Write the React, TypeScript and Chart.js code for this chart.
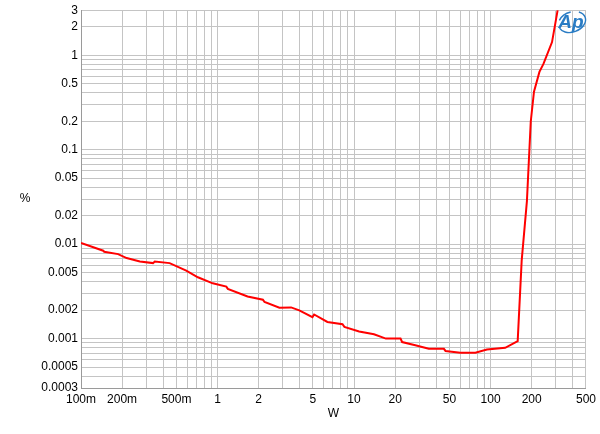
import React, { useEffect, useRef } from "react";
import { Chart, registerables } from "chart.js";

Chart.register(...registerables);

// Output power (W)
const powerW = [
  0.1, 0.1455, 0.148, 0.187, 0.216, 0.27, 0.337, 0.347, 0.446, 0.59, 0.718, 0.923,
  1.16, 1.19, 1.66, 2.15, 2.21, 2.84, 3.46, 3.97, 4.96, 5.1, 6.38, 8.23, 8.5,
  10.9, 14.0, 17.1, 21.9, 22.5, 28.1, 35.3, 45.5, 46.8, 60, 77.4, 94, 128, 158,
  169, 184.6, 197, 208, 228, 244, 282, 310,
];
// THD+N (%)
const thdPct = [
  0.0103, 0.00852, 0.0083, 0.00785, 0.00713, 0.00656, 0.0063, 0.00656, 0.0063, 0.00524,
  0.00446, 0.00385, 0.00355, 0.00336, 0.00279, 0.00258, 0.00244, 0.00212, 0.00214,
  0.00199, 0.00169, 0.0018, 0.0015, 0.00142, 0.00133, 0.00119, 0.00111, 0.001, 0.001,
  0.00092, 0.00085, 0.00078, 0.00078, 0.00074, 0.00071, 0.00071, 0.000766, 0.0008,
  0.00094, 0.0067, 0.0286, 0.199, 0.411, 0.667, 0.81, 1.38, 3.0,
];

const xMin = 0.1;
const xMax = 500;
const yMin = 0.0003;
const yMax = 3;

const xTickValues = [0.1, 0.2, 0.5, 1, 2, 5, 10, 20, 50, 100, 200, 500];
const xTickLabels = ["100m", "200m", "500m", "1", "2", "5", "10", "20", "50", "100", "200", "500"];
const yTickValues = [3, 2, 1, 0.5, 0.2, 0.1, 0.05, 0.02, 0.01, 0.005, 0.002, 0.001, 0.0005, 0.0003];
const yTickLabels = ["3", "2", "1", "0.5", "0.2", "0.1", "0.05", "0.02", "0.01", "0.005", "0.002", "0.001", "0.0005", "0.0003"];

const FONT = '"Liberation Sans", Arial, sans-serif';

function decadeGrid(min: number, max: number): number[] {
  const out: number[] = [];
  const lo = Math.floor(Math.log10(min));
  const hi = Math.ceil(Math.log10(max));
  for (let e = lo; e <= hi; e++) {
    for (let m = 1; m <= 9; m++) {
      const v = parseFloat((m * Math.pow(10, e)).toPrecision(6));
      if (v >= min * 0.9999 && v <= max * 1.0001) out.push(v);
    }
  }
  return out;
}

function labelFor(values: number[], labels: string[], v: number): string {
  for (let i = 0; i < values.length; i++) {
    if (Math.abs(values[i] - v) / values[i] < 1e-6) return labels[i];
  }
  return "";
}

const decorPlugin = {
  id: "decor",
  afterDraw(chart: any) {
    const { ctx, chartArea } = chart;
    ctx.save();
    ctx.fillStyle = "#000";
    ctx.font = `12px ${FONT}`;
    ctx.textAlign = "center";
    ctx.textBaseline = "middle";
    ctx.fillText("%", 25, (chartArea.top + chartArea.bottom) / 2);
    ctx.fillText("W", (chartArea.left + chartArea.right) / 2, 414);

    // Ap logo
    const cx = 572;
    const cy = 22;
    ctx.strokeStyle = "#2a7cc4";
    ctx.lineWidth = 1.4;
    ctx.beginPath();
    ctx.ellipse(cx, cy, 14, 10, -0.35, -0.25 * Math.PI, 0.95 * Math.PI);
    ctx.stroke();
    ctx.beginPath();
    ctx.ellipse(cx, cy, 14, 10, -0.35, 1.2 * Math.PI, 1.55 * Math.PI);
    ctx.stroke();
    ctx.fillStyle = "#2a7cc4";
    ctx.font = `italic bold 19px ${FONT}`;
    ctx.fillText("Ap", cx - 1, cy + 1);
    ctx.restore();
  },
};

export default function App() {
  const canvasRef = useRef<HTMLCanvasElement | null>(null);

  useEffect(() => {
    document.body.style.margin = "0";
    const canvas = canvasRef.current;
    if (!canvas) return;
    const points = powerW.map((x, i) => ({ x, y: thdPct[i] }));
    const gridColor = "#c4c4c4";

    const chart = new Chart(canvas, {
      type: "line",
      data: {
        datasets: [
          {
            data: points,
            borderColor: "#ff0000",
            backgroundColor: "#ff0000",
            borderWidth: 2,
            pointRadius: 0,
            tension: 0,
            fill: false,
          },
        ],
      },
      options: {
        animation: false,
        responsive: false,
        maintainAspectRatio: false,
        layout: { padding: { left: 0, right: 12, top: 8, bottom: 0 } },
        plugins: {
          legend: { display: false },
          tooltip: { enabled: false },
        },
        scales: {
          x: {
            type: "logarithmic",
            min: xMin,
            max: xMax,
            afterBuildTicks: (scale: any) => {
              scale.ticks = decadeGrid(xMin, xMax).map((v) => ({ value: v }));
            },
            afterFit: (scale: any) => {
              scale.height = 46;
            },
            grid: { color: gridColor, lineWidth: 1, drawTicks: false },
            border: { display: true, color: "#9a9a9a" },
            ticks: {
              autoSkip: false,
              maxRotation: 0,
              minRotation: 0,
              padding: 4,
              color: "#000",
              font: { family: FONT, size: 12 },
              callback: (value: any) => labelFor(xTickValues, xTickLabels, Number(value)),
            },
          },
          y: {
            type: "logarithmic",
            min: yMin,
            max: yMax,
            afterBuildTicks: (scale: any) => {
              scale.ticks = decadeGrid(yMin, yMax).map((v) => ({ value: v }));
            },
            afterFit: (scale: any) => {
              scale.width = 81;
            },
            grid: { color: gridColor, lineWidth: 1, drawTicks: false },
            border: { display: true, color: "#9a9a9a" },
            ticks: {
              autoSkip: false,
              padding: 3,
              color: "#000",
              font: { family: FONT, size: 12 },
              callback: (value: any) => labelFor(yTickValues, yTickLabels, Number(value)),
            },
          },
        },
      },
      plugins: [decorPlugin],
    } as any);

    return () => {
      chart.destroy();
    };
  }, []);

  return (
    <div style={{ position: "absolute", left: 0, top: 0, width: 600, height: 434, background: "#fff" }}>
      <canvas ref={canvasRef} width={600} height={434} style={{ width: 600, height: 434, display: "block" }} />
    </div>
  );
}
